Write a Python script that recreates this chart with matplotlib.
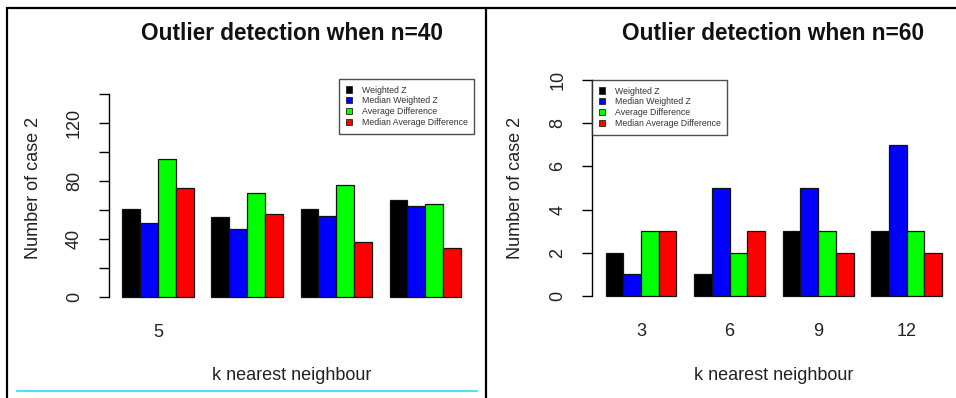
import numpy as np
import matplotlib
matplotlib.use("Agg")
from matplotlib import pyplot as plt
from matplotlib.lines import Line2D
from matplotlib.patches import Patch

plt.rcParams['font.family'] = ['Liberation Sans', 'DejaVu Sans']

# counts of case 2 per method, one list per k group
series_names = ["Weighted Z", "Median Weighted Z", "Average Difference", "Median Average Difference"]
series_colors = ["#000000", "#0000FF", "#00FF00", "#FF0000"]

n40_k_labels = ["5", "", "", ""]
n40_weighted_z = [61, 55, 61, 67]
n40_median_weighted_z = [51, 47, 56, 63]
n40_average_diff = [95, 72, 77, 64]
n40_median_average_diff = [75, 57, 38, 34]

n60_k_labels = ["3", "6", "9", "12"]
n60_weighted_z = [2, 1, 3, 3]
n60_median_weighted_z = [1, 5, 5, 7]
n60_average_diff = [3, 2, 3, 3]
n60_median_average_diff = [3, 3, 2, 2]

W, H = 956, 398
fig = plt.figure(figsize=(W / 100, H / 100), dpi=100)


def px_axes(x0, x1, ytop, ybot):
    return fig.add_axes([x0 / W, 1 - ybot / H, (x1 - x0) / W, (ybot - ytop) / H])


def grouped_bars(ax, columns, labels, ymax, yticks, ylabels):
    data = np.array(columns)  # series x groups
    n_series, n_groups = data.shape
    # R-style layout: unit-width bars, one unit gap between groups
    for s in range(n_series):
        xs = 1.5 + s + (n_series + 1) * np.arange(n_groups)
        ax.bar(xs, data[s], width=1.0, color=series_colors[s],
               edgecolor="#111111", linewidth=0.9)
    centers = 1 + n_series / 2 + (n_series + 1) * np.arange(n_groups)
    total = (n_series + 1) * n_groups - 1
    pad = 0.04 * total
    ax.set_xlim(1 - pad, 1 + total + pad)
    ax.set_ylim(-0.04 * ymax, ymax * 1.04)
    ax.set_xticks(centers)
    ax.set_xticklabels(labels, fontsize=13, color="#222222")
    ax.set_yticks(yticks)
    ax.set_yticklabels(ylabels, fontsize=13, color="#222222")
    for side in ["top", "right", "bottom"]:
        ax.spines[side].set_visible(False)
    ax.spines["left"].set_bounds(0, ymax)
    ax.spines["left"].set_linewidth(1.0)
    ax.tick_params(axis="x", length=0, pad=13.5)
    ax.tick_params(axis="y", length=7.2, width=1.0, pad=11.5, labelrotation=90)
    for t in ax.get_yticklabels():
        t.set_va("center")
    ax.patch.set_alpha(0)


def add_legend(ax, anchor, loc):
    handles = [Patch(facecolor=c, edgecolor="#222222", linewidth=0.6) for c in series_colors]
    leg = ax.legend(handles, series_names, loc=loc, bbox_to_anchor=anchor,
                    bbox_transform=fig.transFigure, fontsize=6.3, frameon=True,
                    fancybox=False, borderpad=0.75, handlelength=0.7, handleheight=0.7,
                    handletextpad=1.1, labelspacing=0.22, borderaxespad=0)
    leg.get_frame().set_edgecolor("#222222")
    leg.get_frame().set_linewidth(1.0)
    for t in leg.get_texts():
        t.set_color("#333333")


# n = 40
ax1 = px_axes(108.8, 474.5, 86, 305)
grouped_bars(ax1, [n40_weighted_z, n40_median_weighted_z, n40_average_diff, n40_median_average_diff],
             n40_k_labels, 140, np.arange(0, 141, 20),
             ["0", "", "40", "", "80", "", "120", ""])
add_legend(ax1, (474 / W, 1 - 79 / H), "upper right")

# n = 60
ax2 = px_axes(592.2, 955.5, 71.4, 304.6)
grouped_bars(ax2, [n60_weighted_z, n60_median_weighted_z, n60_average_diff, n60_median_average_diff],
             n60_k_labels, 10, np.arange(0, 11, 2),
             ["0", "2", "4", "6", "8", "10"])
add_legend(ax2, (592.3 / W, 1 - 80 / H), "upper left")

# titles and axis labels
for cx, n in [(291.6, 40), (773.5, 60)]:
    fig.text(cx / W, 1 - 34 / H, f"Outlier detection when n={n}", ha="center", va="center",
             fontsize=16.3, fontweight="bold", color="#111111")
    fig.text(cx / W, 1 - 376 / H, "k nearest neighbour", ha="center", va="center",
             fontsize=13, color="#222222")
for lx in [33, 515.7]:
    fig.text(lx / W, 1 - 188 / H, "Number of case 2", ha="center", va="center",
             rotation=90, fontsize=13, color="#222222")

# panel frame lines
frame = dict(color="black", linewidth=1.6, solid_capstyle="butt")
fig.add_artist(Line2D([6 / W, 1], [1 - 7.5 / H] * 2, **frame))
fig.add_artist(Line2D([6.5 / W] * 2, [0, 1 - 7 / H], **frame))
fig.add_artist(Line2D([486 / W] * 2, [0, 1 - 7 / H], **frame))
fig.add_artist(Line2D([17 / W, 477 / W], [1 - 391 / H] * 2, color="#22E3F0", linewidth=1.2))

fig.savefig("out.png", dpi=100, facecolor="white")
